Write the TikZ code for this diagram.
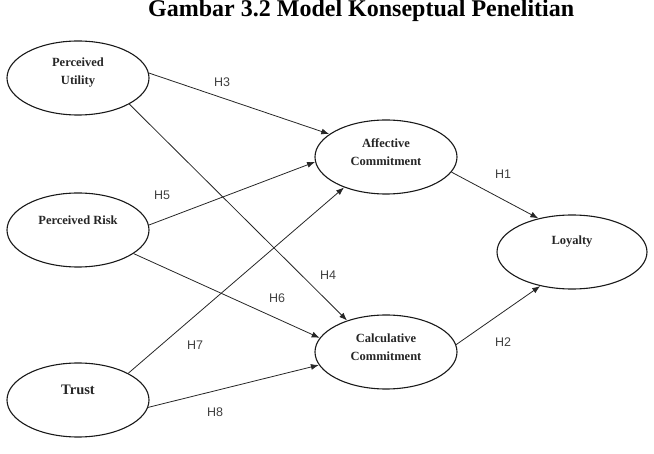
\documentclass[tikz,border=0pt]{standalone}
\usepackage{fontspec}
\setmainfont{Liberation Serif}
\newfontfamily\hypfont{Liberation Sans}
\usepackage{tikz}
\usetikzlibrary{shapes,arrows.meta,positioning,calc}

\begin{document}
\begin{tikzpicture}[
        x=1pt, y=-1pt,
        % Styles for the constructs and the hypothesis paths
        construct/.style={draw, ellipse, line width=1.1pt, draw=black!90, inner sep=0pt, minimum width=142, minimum height=74},
        concept/.style={font=\fontsize{12.5}{18}\selectfont\bfseries, align=center, text=black!85, yshift=10},
        twoline/.style={concept, yshift=-5},
        hyp/.style={font=\hypfont\fontsize{12.5}{14}\selectfont, text=black!75},
        arrow/.style={->, >={Latex[length=8pt,width=6pt]}, line width=0.8pt, draw=black!85}
      ]

      % Page frame (the title runs off the top edge)
      \clip (0,0) rectangle (654,454);

      % Title
      \node[font=\fontsize{24}{26}\selectfont\bfseries, anchor=base west, inner sep=0pt] (title) at (148,17) {Gambar 3.2 Model Konseptual Penelitian};

      % Independent variables on the left
      \node[construct, label={[twoline]center:Perceived\\Utility}] (pu) at (78,78) {};
      \node[construct, label={[concept]center:Perceived Risk}] (pr) at (78,230) {};
      \node[construct, label={[concept, font=\fontsize{14.5}{18}\selectfont\bfseries]center:Trust}] (tr) at (78,400) {};

      % Mediators in the middle
      \node[construct, label={[twoline]center:Affective\\Commitment}] (ac) at (386,157) {};
      \node[construct, label={[twoline]center:Calculative\\Commitment}] (cc) at (386,352) {};

      % Outcome on the right
      \node[construct, minimum width=150, label={[concept]center:Loyalty}] (loy) at (572,252) {};

      % Hypothesis paths with their labels
      \foreach \src/\a/\dst/\b/\h/\lx/\ly in {
          ac/347/loy/135/H1/503/174,
          cc/6/loy/227/H2/503/342,
          pu/4/ac/158/H3/222/82,
          pu/333/cc/141/H4/328/275,
          pr/4/ac/184/H5/162/195,
          pr/337/cc/168/H6/277/298,
          tr/28/ac/216/H7/195/345,
          tr/354/cc/191/H8/215/412} {
        \draw[arrow] (\src.\a) -- (\dst.\b);
        \node[hyp] (lab\h) at (\lx,\ly) {\h};
      }

    \end{tikzpicture}
\end{document}
